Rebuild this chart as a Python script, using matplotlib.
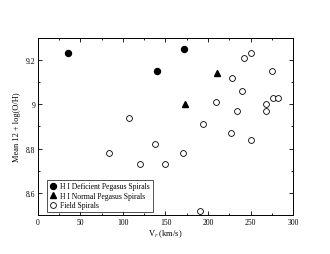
import numpy as np
import matplotlib
matplotlib.use("Agg")
import matplotlib.pyplot as plt
from matplotlib.ticker import MultipleLocator

# HI deficient Pegasus spirals
def_v = [35, 140, 172]
def_oh = [9.23, 9.15, 9.25]

# HI normal Pegasus spirals
norm_v = [211, 173]
norm_oh = [9.14, 9.0]

# field spirals
field_v = [107, 138, 83, 120, 150, 170, 191, 251, 242, 250, 275,
           228, 240, 209, 276, 282, 268, 268, 234, 194, 227]
field_oh = [8.94, 8.82, 8.78, 8.73, 8.73, 8.78, 8.52, 8.84, 9.21, 9.23, 9.15,
            9.12, 9.06, 9.01, 9.03, 9.03, 9.00, 8.97, 8.97, 8.91, 8.87]

plt.rcParams['font.family'] = ['Liberation Serif', 'DejaVu Serif']
plt.rcParams['mathtext.fontset'] = 'stix'

fig = plt.figure(figsize=(3.3, 2.55), dpi=100)
ax = fig.add_axes([0.115, 0.153, 0.773, 0.694])

ax.plot(def_v, def_oh, 'o', color='black', markersize=4.3, linestyle='none',
        label='H I Deficient Pegasus Spirals')
ax.plot(norm_v, norm_oh, '^', color='black', markersize=4.0, linestyle='none',
        label='H I Normal Pegasus Spirals')
ax.plot(field_v, field_oh, 'o', markerfacecolor='white', markeredgecolor='black',
        markeredgewidth=0.6, markersize=4.2, linestyle='none', label='Field Spirals')

ax.set_xlim(0, 300)
ax.set_ylim(8.5, 9.3)
ax.xaxis.set_major_locator(MultipleLocator(50))
ax.xaxis.set_minor_locator(MultipleLocator(25))
ax.yaxis.set_major_locator(MultipleLocator(0.2))
ax.yaxis.set_minor_locator(MultipleLocator(0.1))
ax.set_yticks([8.6, 8.8, 9.0, 9.2])
ax.set_yticklabels(['8.6', '8.8', '9', '9.2'])
ax.tick_params(which='both', direction='in', top=True, right=True,
               labelsize=5.5, width=0.6, pad=2)
ax.tick_params(which='major', length=3)
ax.tick_params(which='minor', length=1.5)
for s in ax.spines.values():
    s.set_linewidth(0.7)

ax.set_xlabel('V$_r$ (km/s)', fontsize=6, labelpad=1)
ax.set_ylabel('Mean 12 + log(O/H)', fontsize=6, labelpad=3)

leg = ax.legend(loc='lower left', fontsize=5.5, frameon=True, fancybox=False,
                shadow=False, borderpad=0.35, handletextpad=0.4, borderaxespad=0,
                handlelength=1.0, labelspacing=0.2, bbox_to_anchor=(0.035, 0.017))
leg.get_frame().set_edgecolor('black')
leg.get_frame().set_linewidth(0.6)

fig.savefig('out.png', dpi=100)
